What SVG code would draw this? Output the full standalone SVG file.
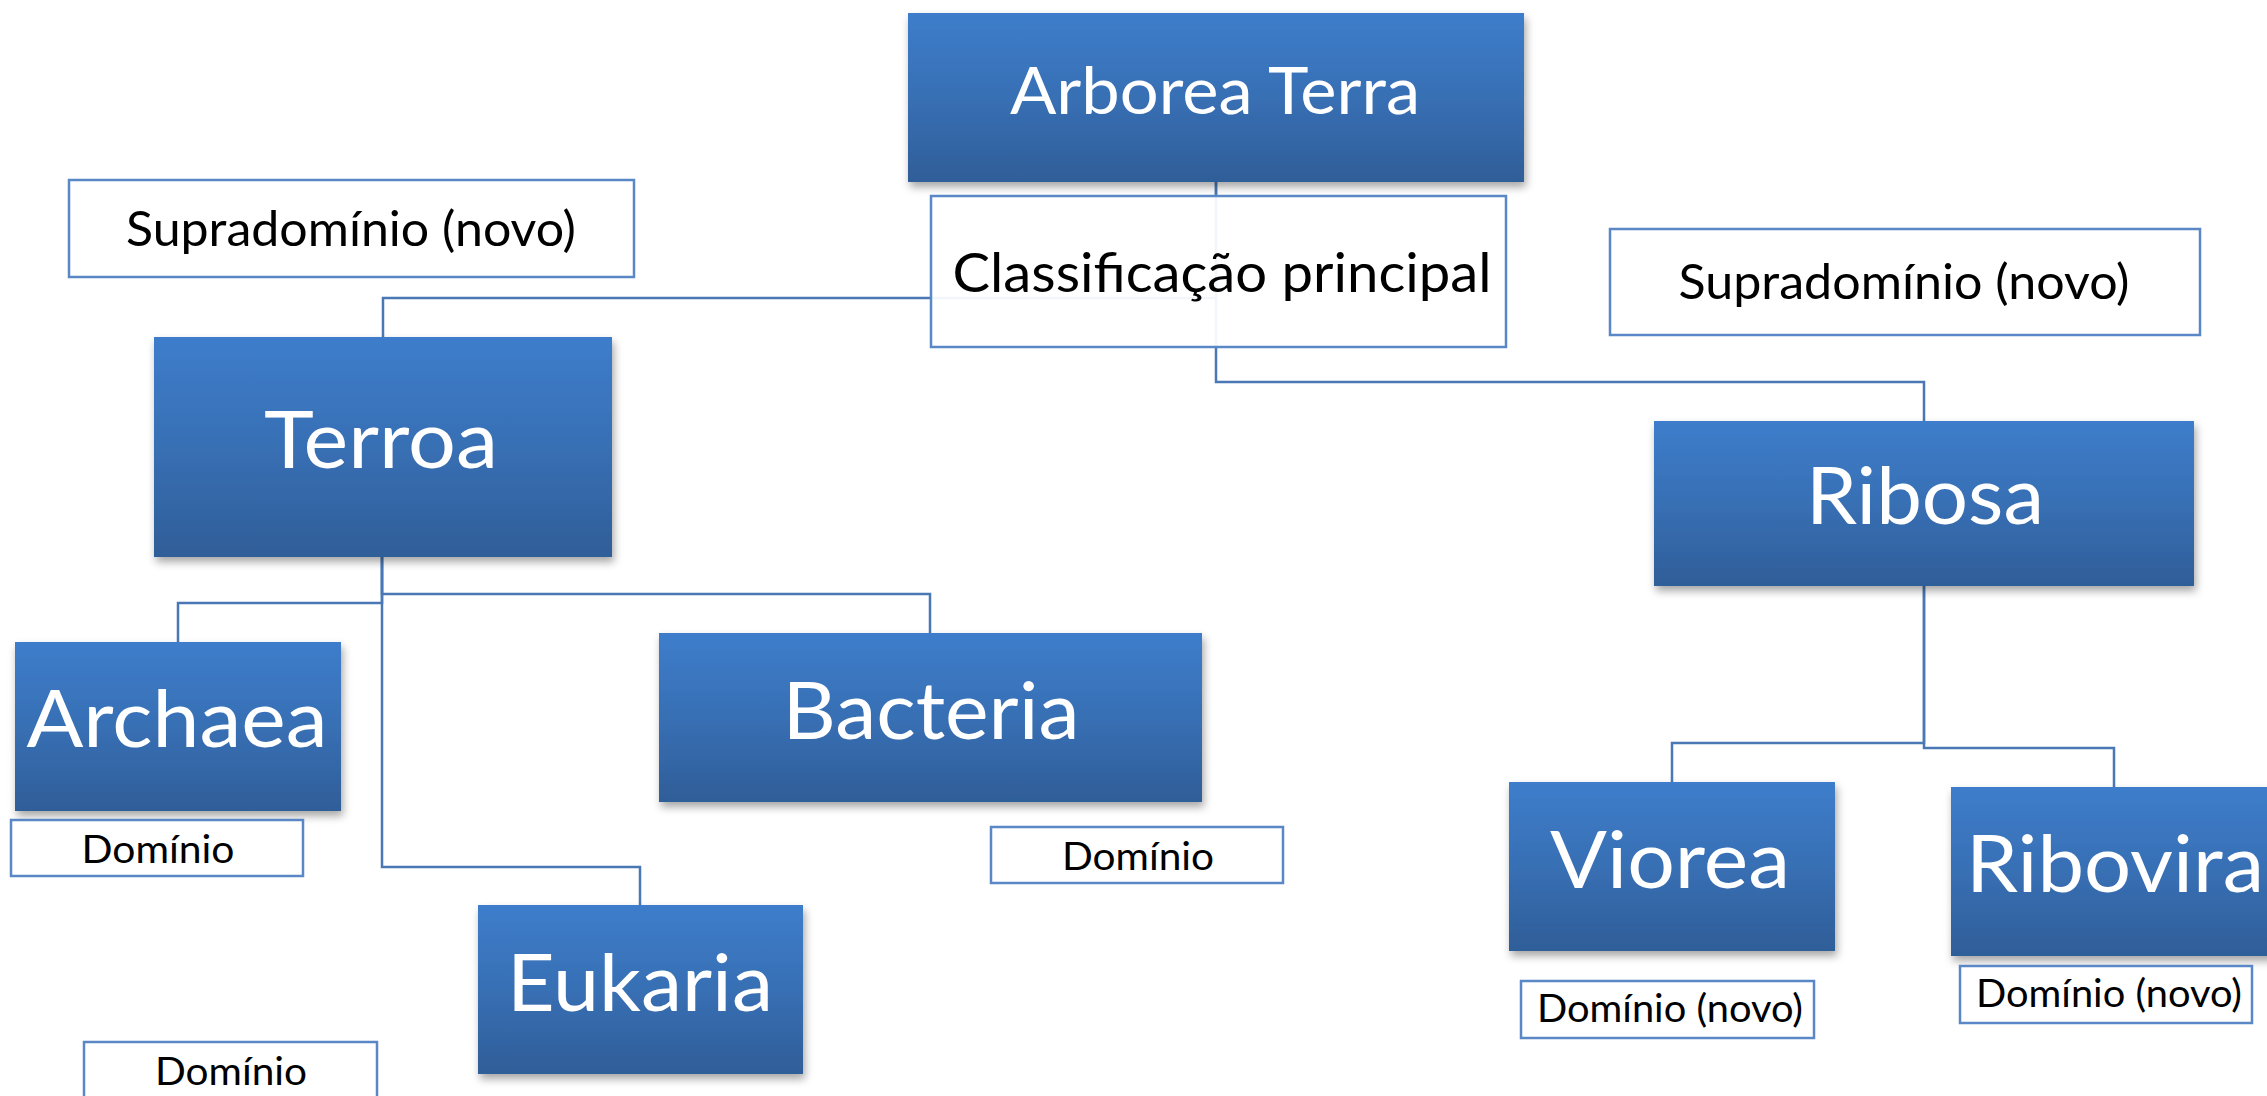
<svg xmlns="http://www.w3.org/2000/svg" width="2267" height="1096" viewBox="0 0 2267 1096">
<defs>
<linearGradient id="g" x1="0" y1="0" x2="0" y2="1">
<stop offset="0" stop-color="#3d7dcb"/>
<stop offset="0.5" stop-color="#386fb4"/>
<stop offset="1" stop-color="#2f5e98"/>
</linearGradient>
<filter id="sh" x="-10%" y="-10%" width="125%" height="130%">
<feDropShadow dx="2" dy="5" stdDeviation="4" flood-color="#000" flood-opacity="0.35"/>
</filter>
</defs>
<style>
.box{fill:url(#g);filter:url(#sh)}
.lab{fill:#fff;stroke:#5a88c6;stroke-width:2.5}
.big{font-family:Lato,"Liberation Sans",sans-serif;fill:#fff;text-anchor:middle}
.sm{font-family:Lato,"Liberation Sans",sans-serif;fill:#000;text-anchor:middle}
.con{fill:none;stroke:#4a78b4;stroke-width:2.5}
</style>
<rect width="2267" height="1096" fill="#fff"/>
<g id="connectors">
<path class="con" d="M1216,181 V298 H383 V337"/>
<path class="con" d="M1216,181 V382 H1924 V421"/>
<path class="con" d="M382,557 V603 H178 V642"/>
<path class="con" d="M382,557 V594 H930 V633"/>
<path class="con" d="M382,557 V867 H640 V905"/>
<path class="con" d="M1924,586 V743 H1672 V782"/>
<path class="con" d="M1924,586 V748 H2114 V787"/>
</g>
<g id="arborea-terra">
<rect class="box" x="908" y="13" width="616" height="169"/>
<text class="big" x="1215" y="114" font-size="66" textLength="410" lengthAdjust="spacingAndGlyphs">Arborea Terra</text>
</g>
<g id="classificacao">
<rect x="931" y="196" width="575" height="151" fill="#fff" fill-opacity="0.93" stroke="#5a88c6" stroke-width="2.5"/>
<text class="sm" x="1222" y="292" font-size="54" textLength="539" lengthAdjust="spacingAndGlyphs">Classificação principal</text>
</g>
<g id="supra-left">
<rect class="lab" x="69" y="180" width="565" height="97"/>
<text class="sm" x="351" y="246" font-size="48" textLength="450" lengthAdjust="spacingAndGlyphs">Supradomínio (novo)</text>
</g>
<g id="supra-right">
<rect class="lab" x="1610" y="229" width="590" height="106"/>
<text class="sm" x="1904" y="299" font-size="48" textLength="451" lengthAdjust="spacingAndGlyphs">Supradomínio (novo)</text>
</g>
<g id="terroa">
<rect class="box" x="154" y="337" width="458" height="220"/>
<text class="big" x="381" y="468" font-size="80" textLength="234" lengthAdjust="spacingAndGlyphs">Terroa</text>
</g>
<g id="ribosa">
<rect class="box" x="1654" y="421" width="540" height="165"/>
<text class="big" x="1925" y="524" font-size="80" textLength="238" lengthAdjust="spacingAndGlyphs">Ribosa</text>
</g>
<g id="archaea">
<rect class="box" x="15" y="642" width="326" height="169"/>
<text class="big" x="177" y="747" font-size="80" textLength="301" lengthAdjust="spacingAndGlyphs">Archaea</text>
</g>
<g id="archaea-dominio">
<rect class="lab" x="11" y="820" width="292" height="56"/>
<text class="sm" x="158" y="863" font-size="39" textLength="153" lengthAdjust="spacingAndGlyphs">Domínio</text>
</g>
<g id="bacteria">
<rect class="box" x="659" y="633" width="543" height="169"/>
<text class="big" x="931" y="739" font-size="80" textLength="297" lengthAdjust="spacingAndGlyphs">Bacteria</text>
</g>
<g id="bacteria-dominio">
<rect class="lab" x="991" y="827" width="292" height="56"/>
<text class="sm" x="1138" y="870" font-size="39" textLength="152" lengthAdjust="spacingAndGlyphs">Domínio</text>
</g>
<g id="eukaria">
<rect class="box" x="478" y="905" width="325" height="169"/>
<text class="big" x="640" y="1011" font-size="80" textLength="266" lengthAdjust="spacingAndGlyphs">Eukaria</text>
</g>
<g id="eukaria-dominio">
<rect class="lab" x="84" y="1042" width="293" height="80"/>
<text class="sm" x="231" y="1085" font-size="39" textLength="152" lengthAdjust="spacingAndGlyphs">Domínio</text>
</g>
<g id="viorea">
<rect class="box" x="1509" y="782" width="326" height="169"/>
<text class="big" x="1670" y="888" font-size="80" textLength="240" lengthAdjust="spacingAndGlyphs">Viorea</text>
</g>
<g id="viorea-dominio">
<rect class="lab" x="1521" y="981" width="293" height="57"/>
<text class="sm" x="1670" y="1022" font-size="38" textLength="266" lengthAdjust="spacingAndGlyphs">Domínio (novo)</text>
</g>
<g id="ribovira">
<rect class="box" x="1951" y="787" width="330" height="169"/>
<text class="big" x="2115" y="892" font-size="80" textLength="298" lengthAdjust="spacingAndGlyphs">Ribovira</text>
</g>
<g id="ribovira-dominio">
<rect class="lab" x="1960" y="966" width="292" height="57"/>
<text class="sm" x="2109" y="1007" font-size="38" textLength="266" lengthAdjust="spacingAndGlyphs">Domínio (novo)</text>
</g>
</svg>
